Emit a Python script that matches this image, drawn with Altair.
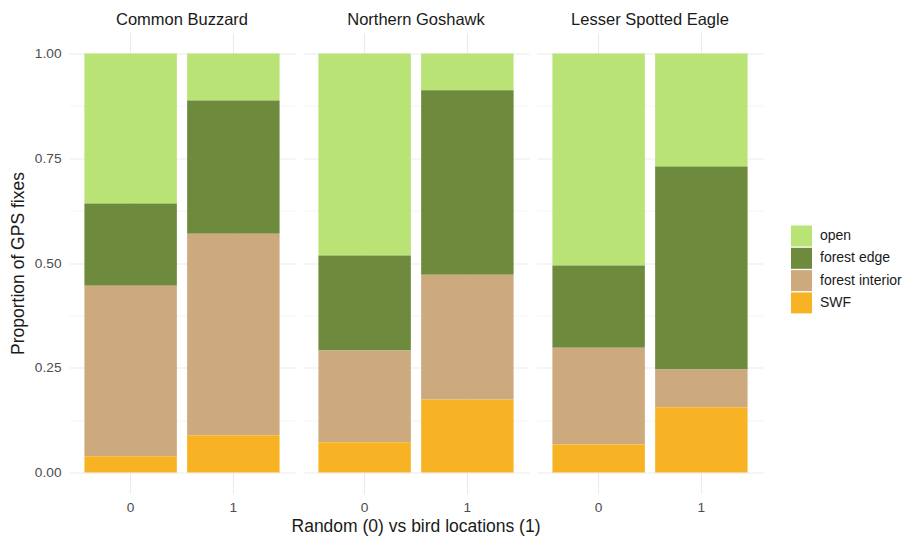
import altair as alt
import pandas as pd

species = ["Common Buzzard", "Common Buzzard", "Northern Goshawk", "Northern Goshawk",
           "Lesser Spotted Eagle", "Lesser Spotted Eagle"]
location = ["0", "1", "0", "1", "0", "1"]
habitats = ["open", "forest edge", "forest interior", "SWF"]
colors = ["#B9E375", "#6E8B3D", "#CDAA7D", "#F8B324"]
stack_rank = [3, 2, 1, 0]

open_v = [0.358, 0.112, 0.482, 0.088, 0.506, 0.270]
edge_v = [0.196, 0.318, 0.227, 0.440, 0.196, 0.484]
interior_v = [0.407, 0.481, 0.219, 0.298, 0.231, 0.090]
swf_v = [0.039, 0.089, 0.072, 0.174, 0.067, 0.156]

species_order = ["Common Buzzard", "Northern Goshawk", "Lesser Spotted Eagle"]

rows = []
for vals, hab, rk in zip([open_v, edge_v, interior_v, swf_v], habitats, stack_rank):
    for s, l, v in zip(species, location, vals):
        rows.append({"species": s, "loc": l, "habitat": hab, "value": v, "rank": rk})
df = pd.DataFrame(rows)

FONT = "Liberation Sans"

minor_test = "abs(datum.value*4 - round(datum.value*4)) > 0.01"

base = alt.Chart(df).mark_bar().encode(
    x=alt.X("loc:N", title=None,
            scale=alt.Scale(paddingInner=0.1, paddingOuter=0.15),
            axis=alt.Axis(labelAngle=0, ticks=False, tickSize=0, domain=False, grid=True,
                          bandPosition=0.5, gridColor="#EBEBEB", gridWidth=1.1,
                          labelColor="#4D4D4D", labelFontSize=13.7, labelPadding=7,
                          labelFont=FONT)),
    y=alt.Y("value:Q", stack="zero", title="Proportion of GPS fixes",
            scale=alt.Scale(domain=[-0.05, 1.05], nice=False, zero=False),
            axis=alt.Axis(values=[0, 0.125, 0.25, 0.375, 0.5, 0.625, 0.75, 0.875, 1.0],
                          labelExpr="abs(datum.value*4 - round(datum.value*4)) > 0.01 ? '' : format(datum.value, '.2f')",
                          ticks=False, tickSize=0, domain=False, grid=True,
                          gridColor="#EBEBEB",
                          gridWidth={"condition": {"test": minor_test, "value": 0.55}, "value": 1.1},
                          labelColor="#4D4D4D", labelFontSize=13.7, labelPadding=8,
                          titleFontSize=17.5, titleFontWeight="normal", titleColor="#1A1A1A",
                          titlePadding=7, labelFont=FONT, titleFont=FONT)),
    color=alt.Color("habitat:N",
                    scale=alt.Scale(domain=habitats, range=colors),
                    legend=alt.Legend(title=None, orient="none", legendX=722, legendY=193,
                                      symbolType="square", symbolSize=441,
                                      symbolStrokeWidth=0, labelFontSize=14,
                                      labelFont=FONT, labelColor="#1A1A1A",
                                      rowPadding=1.3, labelOffset=8)),
    order=alt.Order("rank:Q", sort="ascending"),
).properties(width=226, height=461)

chart = base.facet(
    column=alt.Facet("species:N", sort=species_order,
                     header=alt.Header(title="Random (0) vs bird locations (1)",
                                       titleOrient="bottom", labelOrient="top",
                                       titleFontSize=17.5, titleFontWeight="normal",
                                       titleColor="#1A1A1A", titleFont=FONT, titlePadding=-7,
                                       labelFontSize=16.5, labelFont=FONT,
                                       labelColor="#1A1A1A", labelPadding=4)),
    spacing=8,
).properties(
    padding={"left": 1, "top": 3.5, "right": 0, "bottom": 0}
).configure(font=FONT).configure_view(stroke=None)

chart.save("out.html", embed_options={"renderer": "svg", "actions": False})
